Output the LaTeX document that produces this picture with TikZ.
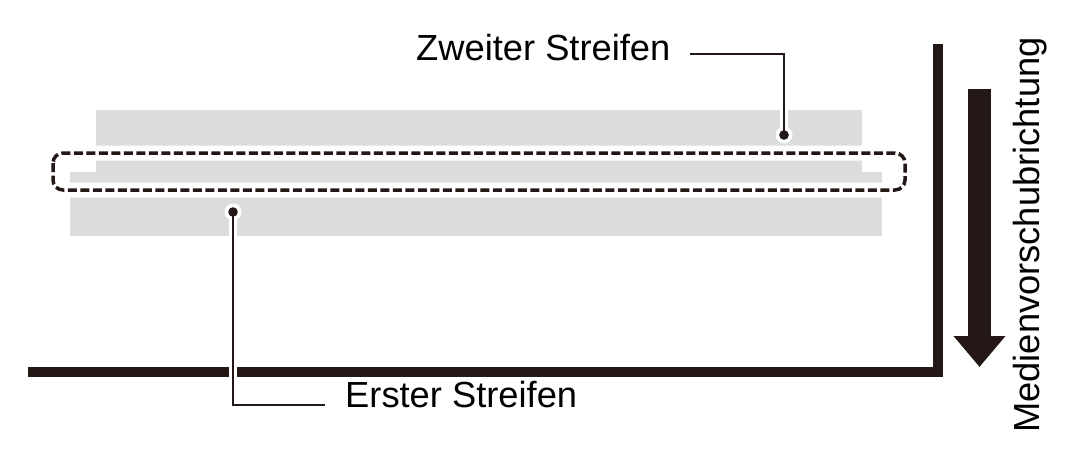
\documentclass[tikz,border=0pt]{standalone}
\usepackage{fontspec}
\setmainfont{Liberation Sans}
\usetikzlibrary{arrows.meta}
\usepackage{xcolor}
\definecolor{ink}{RGB}{35,24,21}
\definecolor{stripe}{RGB}{220,220,220}

\begin{document}
\begin{tikzpicture}[x=1pt, y=-1pt,
  lbl/.style={inner sep=0, font=\fontsize{36.3}{40}\selectfont},
  halo/.style={white, line width=8pt},
  leader/.style={ink, line width=1.6pt}]
\useasboundingbox (0,0) rectangle (1083,460);
% the two stripes
\fill[stripe] (96,110) rectangle (862,172);
\fill[stripe] (70,172) rectangle (882,236);
% overlap frame
\draw[white, line width=15pt, rounded corners=10pt] (53,153) rectangle (905,190);
\draw[ink, line width=3.5pt, dash pattern=on 9pt off 3.5pt, rounded corners=10pt] (53,153) rectangle (905,190);
% media edge
\draw[ink, line width=10pt] (28,372) -| (938,44);
% feed direction
\coordinate (ftop) at (979.5,89);
\coordinate (ftip) at (979.5,367);
\draw[ink, line width=23pt, -{Triangle[width=50pt, length=31pt]}] (ftop) -- (ftip);
\node[lbl, rotate=90, anchor=base west] (feed) at (1039,433) {Medienvorschubrichtung};
% labels
\coordinate (zdot) at (784,135);
\coordinate (zend) at (690,54);
\coordinate (edot) at (233,212);
\coordinate (eend) at (325,405);
\node[lbl, anchor=base west] (zlabel) at (416,60) {Zweiter Streifen};
\node[lbl, anchor=base west] (elabel) at (345,407) {Erster Streifen};
\foreach \d/\e in {zdot/zend, edot/eend} {
 \draw[halo] (\d) |- (\e);
 \fill[white] (\d) circle (8.5pt);
 \draw[leader] (\d) |- (\e);
 \fill[ink] (\d) circle (4.8pt);
}
\end{tikzpicture}
\end{document}
